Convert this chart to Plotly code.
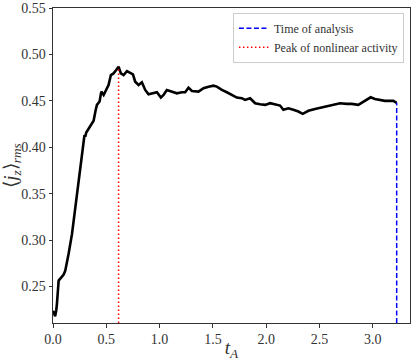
import plotly.graph_objects as go

# Data
t_A = [0.000, 0.006, 0.020, 0.030, 0.037, 0.053, 0.070, 0.084, 0.100, 0.115,
       0.130, 0.146, 0.178, 0.209, 0.240, 0.272, 0.287, 0.295, 0.303, 0.312,
       0.334, 0.350, 0.365, 0.381, 0.400, 0.412, 0.437, 0.453, 0.475, 0.490,
       0.506, 0.521, 0.543, 0.568, 0.593, 0.615, 0.637, 0.662, 0.694, 0.731,
       0.750, 0.771, 0.803, 0.834, 0.865, 0.896, 0.943, 0.975, 1.012, 1.037,
       1.068, 1.115, 1.162, 1.209, 1.240, 1.271, 1.303, 1.365, 1.412, 1.459,
       1.505, 1.537, 1.584, 1.631, 1.678, 1.724, 1.771, 1.802, 1.849, 1.896,
       1.943, 1.990, 2.037, 2.083, 2.130, 2.161, 2.208, 2.255, 2.302, 2.343,
       2.396, 2.458, 2.521, 2.583, 2.646, 2.693, 2.755, 2.802, 2.864, 2.927,
       2.980, 3.020, 3.067, 3.114, 3.161, 3.193, 3.224]
jz_rms = [0.2240, 0.2225, 0.2179, 0.2240, 0.2314, 0.2564, 0.2590, 0.2607, 0.2630, 0.2671,
          0.2750, 0.2850, 0.3064, 0.3350, 0.3636, 0.3922, 0.4100, 0.4130, 0.4115, 0.4160,
          0.4200, 0.4230, 0.4260, 0.4286, 0.4400, 0.4457, 0.4493, 0.4600, 0.4564, 0.4600,
          0.4636, 0.4671, 0.4779, 0.4796, 0.4832, 0.4868, 0.4796, 0.4779, 0.4821, 0.4796,
          0.4786, 0.4707, 0.4671, 0.4700, 0.4618, 0.4571, 0.4582, 0.4593, 0.4536, 0.4564,
          0.4618, 0.4600, 0.4582, 0.4593, 0.4593, 0.4643, 0.4607, 0.4600, 0.4636, 0.4652,
          0.4664, 0.4654, 0.4618, 0.4593, 0.4564, 0.4536, 0.4529, 0.4511, 0.4529, 0.4475,
          0.4464, 0.4457, 0.4475, 0.4464, 0.4450, 0.4404, 0.4421, 0.4404, 0.4386, 0.4361,
          0.4393, 0.4414, 0.4429, 0.4450, 0.4457, 0.4475, 0.4468, 0.4468, 0.4457, 0.4500,
          0.4539, 0.4521, 0.4511, 0.4500, 0.4500, 0.4500, 0.4480]

t_analysis = 3.224
t_peak = 0.615
y_range = [0.2107, 0.5501]
x_range = [0.0, 3.349]
x_ticks = [0.0, 0.5, 1.0, 1.5, 2.0, 2.5, 3.0]
y_ticks = [0.25, 0.30, 0.35, 0.40, 0.45, 0.50, 0.55]

FONT = "Liberation Serif"
TXT = "#333333"

fig = go.Figure()
fig.add_trace(go.Scatter(x=t_A, y=jz_rms, mode="lines",
                         line=dict(color="black", width=2.6), showlegend=False))

y_at_analysis = jz_rms[-1]
y_at_peak = max(jz_rms)
fig.add_trace(go.Scatter(x=[t_analysis, t_analysis], y=[y_range[0], y_at_analysis],
                         mode="lines", name="Time of analysis",
                         line=dict(color="#0000ff", width=1.5, dash="5px,2.5px")))
fig.add_trace(go.Scatter(x=[t_peak, t_peak], y=[y_range[0], y_at_peak],
                         mode="lines", name="Peak of nonlinear activity",
                         line=dict(color="#ff0000", width=1.5, dash="1.5px,2.5px")))

axis_common = dict(showline=True, linecolor="#333333", linewidth=1, mirror=True,
                   ticks="outside", ticklen=3.5, tickwidth=0.8, tickcolor="#333333",
                   showgrid=False, zeroline=False,
                   tickfont=dict(family=FONT, size=14, color=TXT))

fig.update_layout(
    width=411, height=361,
    margin=dict(l=53, r=1, t=8, b=38, autoexpand=False),
    paper_bgcolor="white", plot_bgcolor="white",
    font=dict(family=FONT, color=TXT),
    xaxis=dict(range=x_range, tickvals=x_ticks, ticktext=[f"{v:.1f}" for v in x_ticks],
               title=dict(text="<i>t<sub>A</sub></i>", font=dict(family=FONT, size=19, color=TXT),
                          standoff=0),
               **axis_common),
    yaxis=dict(range=y_range, tickvals=y_ticks, ticktext=[f"{v:.2f}" for v in y_ticks],
               title=dict(text="⟨<i>j<sub>z</sub></i>⟩<sub><i>rms</i></sub>",
                          font=dict(family=FONT, size=19, color=TXT), standoff=2),
               **axis_common),
    legend=dict(x=0.983, y=0.985, xanchor="right", yanchor="top",
                bgcolor="rgba(255,255,255,0.85)", bordercolor="#cccccc", borderwidth=1,
                font=dict(family=FONT, size=12, color=TXT), itemwidth=30,
                tracegroupgap=0),
    showlegend=True,
)

fig.write_html("out.html", config={"displayModeBar": False},
               post_script="document.body.style.margin='0';document.body.style.padding='0';")
